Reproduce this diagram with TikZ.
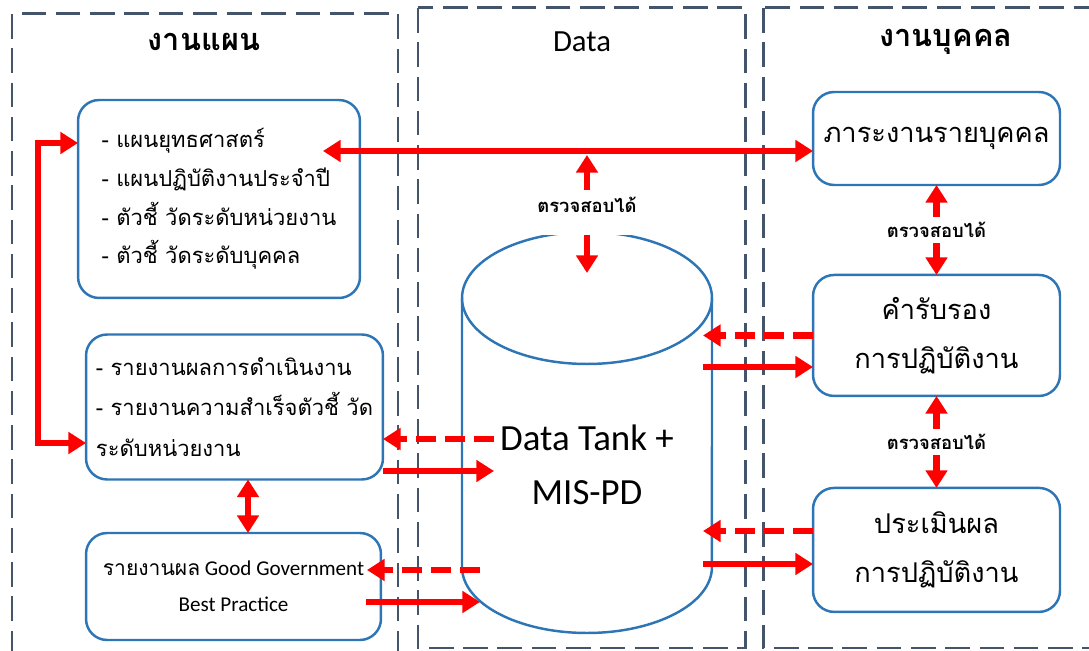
\documentclass[tikz,border=0pt]{standalone}
\usepackage{fontspec}
\setmainfont{Carlito}
\newfontfamily\thaifont[Script=Thai]{Loma}
\usetikzlibrary{
    positioning,
    arrows.meta
}
\definecolor{panelgray}{HTML}{44546A}
\definecolor{boxblue}{HTML}{2E75B6}
\tikzset{%
    work panel/.style={%
        draw=panelgray,
        line width=1.7pt,
        dash pattern=on 14pt off 5.5pt,
    },
    info box/.style={%
        rectangle,
        draw=boxblue,
        line width=1.4pt,
        rounded corners=12pt,
        inner sep = 0pt,
        outer sep = 0pt,
    },
    person box/.style={%
        info box,
        minimum width=4.94cm,
        align=center,
        font=\thaifont\fontsize{15.5}{28}\selectfont,
    },
    panel title/.style={%
        font=\fontsize{17.5}{21}\selectfont,
    },
    red arrow/.style={%
        draw=red,
        line width=3.6pt,
        >={Triangle[length=10pt,width=12pt]},
    },
    red dashed arrow/.style={%
        red arrow,
        dash pattern=on 11.5pt off 5pt,
    },
    check label/.style={%
        fill=white,
        inner xsep=1pt,
        inner ysep=3pt,
        font=\thaifont\bfseries\fontsize{10.5}{12}\selectfont,
    },
}

\begin{document}
\begin{tikzpicture}[x=0.02cm, y=-0.02cm]
    \useasboundingbox (0,0) rectangle (1089,651);
    \clip (0,0) rectangle (1089,651);

    % panels
    \draw[work panel] (12,14) rectangle (398,690);
    \draw[work panel] (418,8) rectangle (745,648);
    \draw[work panel] (763,8) rectangle (1130,648);

    \node[panel title] (plan title) at (204,42) {\thaifont\bfseries งานแผน};
    \node[panel title] (data title) at (582,42) {Data};
    \node[panel title] (person title) at (946,42) {\thaifont\bfseries งานบุคคล};

    % plan side
    \node[info box, minimum width=5.64cm, minimum height=3.96cm, align=left,
        font=\thaifont\fontsize{12.5}{22}\selectfont] (plan) at (219,199)
        {- แผนยุทธศาสตร์\\- แผนปฏิบัติงานประจำปี\\- ตัวชี้ วัดระดับหน่วยงาน\\- ตัวชี้ วัดระดับบุคคล};
    \node[info box, minimum width=5.94cm, minimum height=2.9cm, align=left,
        font=\thaifont\fontsize{12.5}{23}\selectfont] (report) at (234.5,407)
        {- รายงานผลการดำเนินงาน\\- รายงานความสำเร็จตัวชี้ วัด\\ระดับหน่วยงาน};
    \node[info box, minimum width=5.9cm, minimum height=2.14cm, align=center,
        font=\fontsize{12}{20.5}\selectfont] (goodgov) at (233.5,586.5)
        {{\thaifont รายงานผล} Good Government\\Best Practice};

    % person side
    \node[person box, minimum height=1.86cm] (workload) at (936.5,138.5) {ภาระงานรายบุคคล};
    \node[person box, minimum height=2.42cm, below=1.8cm of workload] (agreement) {คำรับรอง\\การปฏิบัติงาน};
    \node[person box, minimum height=2.48cm, below=1.84cm of agreement] (evaluation) {ประเมินผล\\การปฏิบัติงาน};

    % data tank
    \draw[boxblue, line width=1.4pt] (462,298) -- (462,567)
        arc[start angle=180, end angle=360, x radius=2.5cm, y radius=1.32cm] -- (712,298);
    \draw[boxblue, line width=1.4pt] (587,298) ellipse [x radius=2.5cm, y radius=1.32cm];
    \node[font=\fontsize{21}{31}\selectfont, align=center] (tank) at (587,465) {Data Tank +\\MIS-PD};
    \coordinate (tank left) at (480,600);
    \coordinate (tank right) at (703,450);
    \coordinate (tank query) at (587,155);
    \coordinate (tank top) at (587,273);
    \coordinate (loop) at (38,300);

    \draw[red arrow, <->, shorten <=-0.74cm] (plan.east |- 0,151) -- (workload.west |- 0,151);
    \draw[red arrow, <->] (tank query) -- (tank top);
    \node[check label, text height=0.46cm, text depth=0.44cm, inner ysep=0pt, anchor=base] (check data) at (587,213) {ตรวจสอบได้};

    \draw[red arrow, <->] (plan.west |- 0,143) -| (loop) |- (report.west |- 0,443);
    \draw[red arrow, <->] (report.south -| 248,0) -- (goodgov.north -| 248,0);

    \draw[red dashed arrow, ->] (tank.west |- 0,439) -- (report.east |- 0,439);
    \draw[red arrow, ->] (report.east |- 0,471) -- (tank.west |- 0,471);
    \draw[red dashed arrow, ->, shorten >=-0.28cm] (tank left |- 0,570) -- (goodgov.east |- 0,570);
    \draw[red arrow, ->, shorten <=-0.3cm] (goodgov.east |- 0,602) -- (tank left |- 0,602);

    \draw[red dashed arrow, ->] (agreement.west) -- (tank right |- agreement.west);
    \draw[red arrow, ->] (tank right |- 0,367) -- (agreement.west |- 0,367);
    \draw[red dashed arrow, ->] (evaluation.west |- 0,531) -- (tank right |- 0,531);
    \draw[red arrow, ->] (tank right |- 0,564) -- (evaluation.west |- 0,564);

    \draw[red arrow, <->] (workload.south) -- (agreement.north)
        node[check label, midway] (check work) {ตรวจสอบได้};
    \draw[red arrow, <->] (agreement.south) -- (evaluation.north)
        node[check label, midway] (check result) {ตรวจสอบได้};
\end{tikzpicture}
\end{document}
